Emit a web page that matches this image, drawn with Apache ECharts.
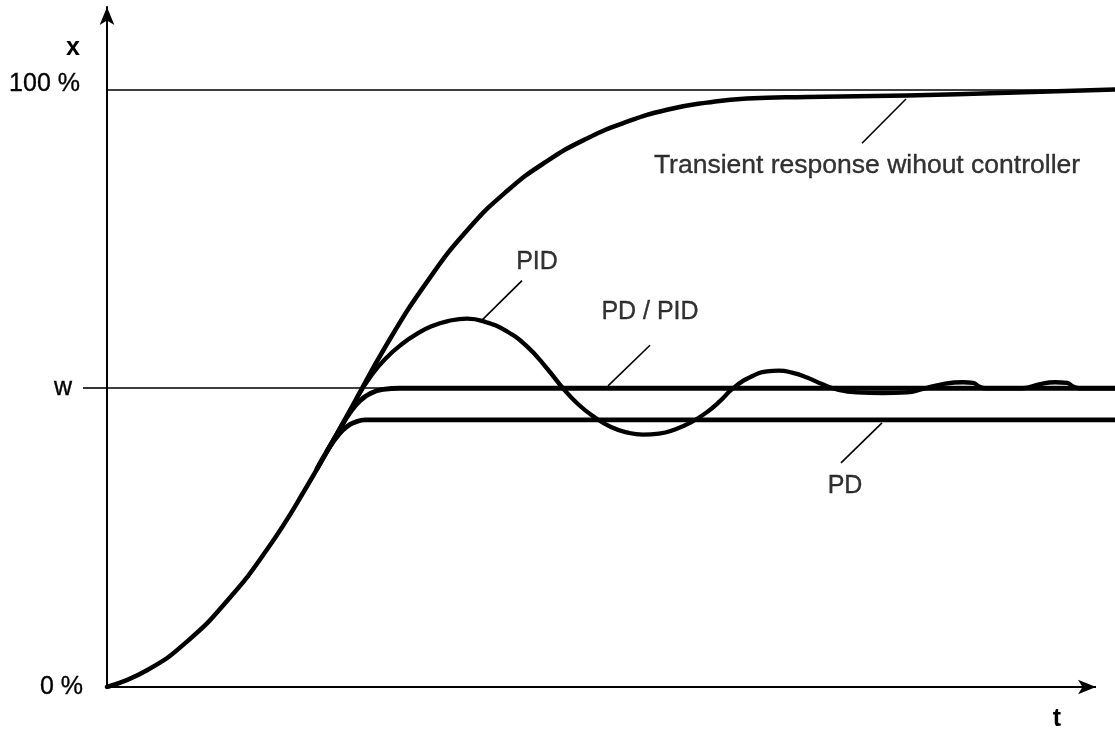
<!DOCTYPE html>
<html><head><meta charset="utf-8">
<script src="https://cdn.jsdelivr.net/npm/echarts@6/dist/echarts.min.js"></script>
<style>html,body{margin:0;padding:0;background:#fff}#c{width:1115px;height:731px}</style>
</head><body><div id="c"></div>
<script>
const FONT = '"Liberation Sans", Arial, Helvetica, sans-serif';

// ---- data (t: time units, x: % of full scale) ----
const yTickValues = [0, 50, 100];
const yTickLabels = ['0 %', 'w', '100 %'];
const setpointW = 50;
const fullScale = 100;
const tMax = 1008;
const yMax = 113.8;
const xAxisArrowEnd = 989;

// response without controller
const tNoCtrl = [0, 40, 80, 120, 160, 200, 240, 280, 320, 360, 400, 440, 480, 520, 560, 600, 640, 700, 800, 900, 1008];
const xNoCtrl = [0, 2.8, 7.6, 14.4, 23.0, 33.6, 45.4, 57.4, 67.8, 76.4, 83.0, 88.0, 91.8, 94.6, 96.6, 97.8, 98.5, 98.75, 99.0, 99.45, 100];

// PD controller
const tPD = [210, 222, 232, 240, 248, 258, 1008];
const xPD = [36.55, 40.0, 42.3, 43.6, 44.3, 44.7, 44.7];

// PD / PID
const tPDPID = [220, 233, 243, 253, 263, 276, 293, 1008];
const xPDPID = [39.5, 43.2, 45.9, 47.9, 49.1, 49.8, 50.0, 50.0];

// PID
const tPID = [250, 265, 280, 295, 310, 325, 340, 360, 380, 400, 420, 440, 456, 472, 488, 504, 520, 536, 552, 568, 584, 600, 614, 626, 645, 660, 672, 685, 700, 715, 730, 750, 775, 800, 816, 836, 856, 866, 872, 878, 916, 933, 948, 960, 966, 972, 1008];
const xPID = [48.4, 52.3, 55.2, 57.4, 59.1, 60.4, 61.2, 61.65, 61.0, 59.5, 57.0, 53.3, 50.0, 47.2, 45.1, 43.5, 42.6, 42.25, 42.4, 43.1, 44.3, 46.0, 48.0, 50.0, 52.0, 52.8, 52.95, 52.6, 51.8, 50.7, 49.8, 49.3, 49.2, 49.3, 49.9, 50.7, 51.0, 50.9, 50.3, 50.0, 50.0, 50.7, 51.0, 50.9, 50.3, 50.0, 50.0];

// annotations
const annoLabels = ['Transient response wihout controller', 'PID', 'PD / PID', 'PD'];
const annoPos = [[760, 87.2], [430, 71.1], [543, 62.8], [738, 33.6]];
const leaderFrom = [[799, 98.4], [375, 61.4], [501, 50.4], [775, 44.2]];
const leaderTo = [[755, 91.0], [415, 68.0], [543, 57.2], [734, 37.5]];
const axisNameX = 'x';
const axisNameT = 't';

const pairs = (a, b) => a.map((v, i) => [v, b[i]]);

const curveStyle = (w) => ({
  type: 'line', symbol: 'none', smooth: 0.5, silent: true,
  lineStyle: { color: '#000', width: w, cap: 'round', join: 'round' },
  emphasis: { disabled: true }, z: 3
});

const txt = { color: '#000', fontFamily: FONT, textBorderColor: '#000', textBorderWidth: 0.35 };

const chart = echarts.init(document.getElementById('c'), null, { renderer: 'canvas' });
chart.setOption({
  animation: false,
  backgroundColor: '#fff',
  grid: { left: 107, right: 0, top: 7, bottom: 44 },
  xAxis: {
    type: 'value', min: 0, max: tMax,
    axisLine: { show: false }, axisTick: { show: false },
    axisLabel: { show: false }, splitLine: { show: false }
  },
  yAxis: {
    type: 'value', min: 0, max: yMax, interval: 50,
    axisLine: { show: true, onZero: false, symbol: ['none', 'arrow'], symbolSize: [11, 18],
      lineStyle: { color: '#000', width: 2 } },
    axisTick: { show: true, customValues: [setpointW], length: 24, lineStyle: { color: '#000', width: 1.6 } },
    axisLabel: Object.assign({
      customValues: yTickValues, margin: 24, fontSize: 25,
      formatter: (v) => {
        const i = yTickValues.indexOf(v);
        const key = ['z', 'w', 'h'][i];
        return i < 0 ? '' : '{' + key + '|' + yTickLabels[i] + '}';
      },
      rich: {
        z: Object.assign({ fontSize: 25, padding: [0, 0, 0, 0] }, txt),
        w: Object.assign({ fontSize: 25, padding: [0, 11, 0, 0] }, txt),
        h: Object.assign({ fontSize: 25, padding: [0, 3, 10, 0] }, txt)
      }
    }, txt),
    splitLine: { show: false }
  },
  series: [
    Object.assign(curveStyle(4.5), {
      name: 'Transient response wihout controller',
      data: pairs(tNoCtrl, xNoCtrl),
      markLine: {
        silent: true, symbol: 'none', animation: false,
        label: { show: false }, emphasis: { disabled: true },
        lineStyle: { color: '#000', width: 1.6, type: 'solid' },
        data: [
          { yAxis: fullScale },
          { yAxis: setpointW },
          ...leaderFrom.map((p, i) => [{ coord: p }, { coord: leaderTo[i] }]),
          [{ coord: [0, 0], symbol: 'none', lineStyle: { width: 2 } },
           { coord: [xAxisArrowEnd, 0], symbol: 'arrow', symbolSize: [11, 18] }]
        ]
      }
    }),
    Object.assign(curveStyle(4.8), { name: 'PD', data: pairs(tPD, xPD) }),
    Object.assign(curveStyle(4.8), { name: 'PD / PID', data: pairs(tPDPID, xPDPID) }),
    Object.assign(curveStyle(4.3), { name: 'PID', data: pairs(tPID, xPID) }),
    {
      type: 'scatter', name: 'labels', silent: true, symbol: 'circle', symbolSize: 1,
      itemStyle: { color: 'rgba(0,0,0,0)' }, emphasis: { disabled: true },
      label: Object.assign({ show: true, position: 'inside', fontSize: 25,
        formatter: (p) => p.dataIndex === 0 ? '{big|' + p.name + '}' : p.name,
        rich: { big: Object.assign({ fontSize: 26.5 }, txt) } }, txt),
      data: annoPos.map((p, i) => ({ value: p, name: annoLabels[i] })),
      z: 5
    }
  ],
  graphic: [
    { type: 'text', x: 73, y: 48, silent: true,
      style: { text: axisNameX, fill: '#000', font: 'bold 25px ' + FONT, align: 'center', verticalAlign: 'middle' } },
    { type: 'text', x: 1057, y: 719, silent: true,
      style: { text: axisNameT, fill: '#000', font: 'bold 25px ' + FONT, align: 'center', verticalAlign: 'middle' } }
  ]
});
</script>
</body></html>
